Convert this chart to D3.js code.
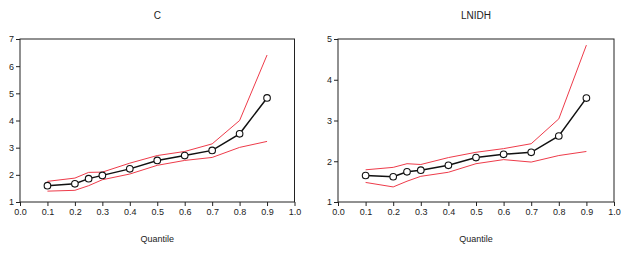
<!DOCTYPE html>
<html>
<head>
<meta charset="utf-8">
<script src="https://cdn.jsdelivr.net/npm/d3@7/dist/d3.min.js"></script>
<style>
  body { margin: 0; background: #fff; }
  text { font-family: "Liberation Sans", Arial, sans-serif; fill: #222; }
</style>
</head>
<body>
<script>
// quantiles
var quantiles = [0.1, 0.2, 0.25, 0.3, 0.4, 0.5, 0.6, 0.7, 0.8, 0.9];
var xTicks = [0, 0.1, 0.2, 0.3, 0.4, 0.5, 0.6, 0.7, 0.8, 0.9, 1.0];

// C
var cEst = [1.60, 1.67, 1.86, 1.98, 2.22, 2.53, 2.71, 2.90, 3.51, 4.83];
var cUpper = [1.76, 1.88, 2.09, 2.10, 2.43, 2.71, 2.86, 3.14, 4.00, 6.41];
var cLower = [1.40, 1.43, 1.60, 1.82, 2.03, 2.35, 2.53, 2.64, 3.01, 3.23];
var cTicks = [1, 2, 3, 4, 5, 6, 7];

// LNIDH
var lEst = [1.65, 1.62, 1.74, 1.78, 1.90, 2.09, 2.17, 2.22, 2.62, 3.55];
var lUpper = [1.79, 1.85, 1.94, 1.92, 2.09, 2.22, 2.31, 2.43, 3.04, 4.85];
var lLower = [1.48, 1.37, 1.51, 1.63, 1.73, 1.94, 2.04, 1.98, 2.14, 2.24];
var lTicks = [1, 2, 3, 4, 5];

var width = 624;
var height = 254;

var svg = d3.select("body")
  .append("svg")
  .attr("width", width)
  .attr("height", height);

function panel(left, right, title, est, upper, lower, yTicks) {
  var top = 39, bottom = 202;
  var g = svg.append("g");

  var x = d3.scaleLinear().domain([0, 1]).range([left, right]);
  var y = d3.scaleLinear().domain([yTicks[0], yTicks[yTicks.length - 1]]).range([bottom, top]);

  // frame
  g.append("rect")
    .attr("x", left)
    .attr("y", top)
    .attr("width", right - left)
    .attr("height", bottom - top)
    .attr("fill", "none")
    .attr("stroke", "#222")
    .attr("stroke-width", 1);

  var xAxis = d3.axisBottom(x)
    .tickValues(xTicks)
    .tickSize(4)
    .tickPadding(3)
    .tickFormat(d3.format(".1f"));
  var gx = g.append("g")
    .attr("transform", "translate(0," + bottom + ")")
    .call(xAxis);
  gx.select(".domain").remove();
  gx.selectAll("line").attr("stroke", "#222");
  gx.selectAll("text").attr("font-size", "9px").attr("fill", "#222");

  var yAxis = d3.axisLeft(y)
    .tickValues(yTicks)
    .tickSize(4)
    .tickPadding(2)
    .tickFormat(d3.format("d"));
  var gy = g.append("g")
    .attr("transform", "translate(" + left + ",0)")
    .call(yAxis);
  gy.select(".domain").remove();
  gy.selectAll("line").attr("stroke", "#222");
  gy.selectAll("text").attr("font-size", "9px").attr("fill", "#222");

  var line = d3.line()
    .x(function (d, i) { return x(quantiles[i]); })
    .y(function (d) { return y(d); });

  [upper, lower].forEach(function (s) {
    g.append("path")
      .datum(s)
      .attr("d", line)
      .attr("fill", "none")
      .attr("stroke", "#ee3b4a")
      .attr("stroke-width", 1);
  });

  g.append("path")
    .datum(est)
    .attr("d", line)
    .attr("fill", "none")
    .attr("stroke", "#111")
    .attr("stroke-width", 1.5);

  g.selectAll("circle.pt")
    .data(est)
    .enter()
    .append("circle")
    .attr("class", "pt")
    .attr("cx", function (d, i) { return x(quantiles[i]); })
    .attr("cy", function (d) { return y(d); })
    .attr("r", 3.3)
    .attr("fill", "#fff")
    .attr("stroke", "#111")
    .attr("stroke-width", 1.1);

  g.append("text")
    .attr("x", (left + right) / 2)
    .attr("y", 19)
    .attr("text-anchor", "middle")
    .attr("font-size", "10px")
    .text(title);

  g.append("text")
    .attr("x", (left + right) / 2)
    .attr("y", 242)
    .attr("text-anchor", "middle")
    .attr("font-size", "9px")
    .text("Quantile");
}

panel(20, 294.5, "C", cEst, cUpper, cLower, cTicks);
panel(338, 614, "LNIDH", lEst, lUpper, lLower, lTicks);
</script>
</body>
</html>
